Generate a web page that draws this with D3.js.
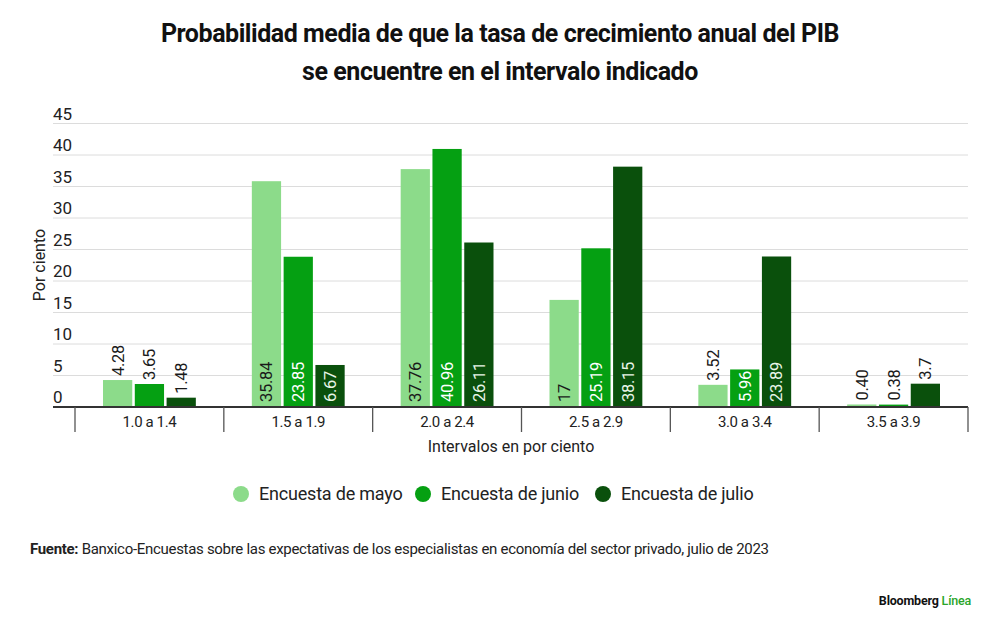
<!DOCTYPE html>
<html>
<head>
<meta charset="utf-8">
<script src="https://cdn.jsdelivr.net/npm/d3@7"></script>
<style>
  body { margin: 0; background: #fff; }
  svg { display: block; font-family: Roboto, "Noto Sans", sans-serif; }
</style>
</head>
<body>
<div id="chart"></div>
<script>
// data
const intervals = ["1.0 a 1.4", "1.5 a 1.9", "2.0 a 2.4", "2.5 a 2.9", "3.0 a 3.4", "3.5 a 3.9"];
const seriesNames = ["Encuesta de mayo", "Encuesta de junio", "Encuesta de julio"];
const mayo = [4.28, 35.84, 37.76, 17, 3.52, 0.40];
const junio = [3.65, 23.85, 40.96, 25.19, 5.96, 0.38];
const julio = [1.48, 6.67, 26.11, 38.15, 23.89, 3.7];
const mayoLabels = ["4.28", "35.84", "37.76", "17", "3.52", "0.40"];
const junioLabels = ["3.65", "23.85", "40.96", "25.19", "5.96", "0.38"];
const julioLabels = ["1.48", "6.67", "26.11", "38.15", "23.89", "3.7"];
const yTicks = [0, 5, 10, 15, 20, 25, 30, 35, 40, 45];

const colors = ["#8cdb8a", "#05a012", "#0a500c"];
const textInside = ["#1a1a1a", "#ffffff", "#e8f5e8"];

const width = 1000, height = 630;
const svg = d3.select("#chart").append("svg")
    .attr("width", width)
    .attr("height", height);

// title
svg.append("text")
    .attr("x", 500).attr("y", 42)
    .attr("text-anchor", "middle")
    .attr("font-size", 25).attr("font-weight", 700)
    .attr("letter-spacing", -0.45)
    .attr("fill", "#111")
    .text("Probabilidad media de que la tasa de crecimiento anual del PIB");
svg.append("text")
    .attr("x", 500).attr("y", 80)
    .attr("text-anchor", "middle")
    .attr("font-size", 25).attr("font-weight", 700)
    .attr("letter-spacing", -0.45)
    .attr("fill", "#111")
    .text("se encuentre en el intervalo indicado");

// scales
const x0 = d3.scaleBand().domain(intervals).range([75, 968]);
const bw = x0.bandwidth();
const x1 = d3.scaleBand().domain(seriesNames).range([28, bw - 28]).paddingInner(0.08);
const y = d3.scaleLinear().domain([0, 45]).range([407, 123.5]);

// gridlines + y labels
const grid = svg.append("g");
grid.selectAll("line").data(yTicks.filter(d => d > 0)).join("line")
    .attr("x1", 53).attr("x2", 968)
    .attr("y1", d => y(d)).attr("y2", d => y(d))
    .attr("stroke", "#dcdcdc").attr("stroke-width", 1);
grid.selectAll("text").data(yTicks).join("text")
    .attr("x", 53).attr("y", d => y(d) - 4)
    .attr("font-size", 17).attr("fill", "#222")
    .text(d => d);

svg.append("text")
    .attr("transform", "translate(45,265) rotate(-90)")
    .attr("text-anchor", "middle")
    .attr("font-size", 16).attr("fill", "#222")
    .text("Por ciento");

// bars
const seriesData = [mayo, junio, julio];
const seriesLabels = [mayoLabels, junioLabels, julioLabels];
const rows = [];
intervals.forEach((c, i) => {
    seriesNames.forEach((s, j) => {
        rows.push({ cat: c, s: s, j: j, v: seriesData[j][i], label: seriesLabels[j][i] });
    });
});

const bars = svg.append("g");
bars.selectAll("rect").data(rows).join("rect")
    .attr("x", d => x0(d.cat) + x1(d.s))
    .attr("y", d => y(d.v))
    .attr("width", x1.bandwidth())
    .attr("height", d => y(0) - y(d.v))
    .attr("fill", d => colors[d.j]);

bars.selectAll("text").data(rows).join("text")
    .attr("transform", d => {
        const cx = x0(d.cat) + x1(d.s) + x1.bandwidth() / 2;
        const yy = d.v >= 5 ? y(0) - 5 : y(d.v) - 4;
        return `translate(${cx},${yy}) rotate(-90)`;
    })
    .attr("dy", "0.36em")
    .attr("font-size", 16.5)
    .attr("letter-spacing", -0.3)
    .attr("fill", d => d.v >= 5 ? textInside[d.j] : "#1a1a1a")
    .text(d => d.label);

// x axis
svg.append("line")
    .attr("x1", 53).attr("x2", 968)
    .attr("y1", y(0)).attr("y2", y(0))
    .attr("stroke", "#333").attr("stroke-width", 2);

const edges = intervals.map(c => x0(c)).concat([x0.range()[1]]);
svg.append("g").selectAll("line").data(edges).join("line")
    .attr("x1", d => d).attr("x2", d => d)
    .attr("y1", y(0)).attr("y2", 432)
    .attr("stroke", "#555").attr("stroke-width", 1.3);

svg.append("g").selectAll("text").data(intervals).join("text")
    .attr("x", d => x0(d) + bw / 2)
    .attr("y", 427)
    .attr("text-anchor", "middle")
    .attr("font-size", 15).attr("fill", "#222")
    .attr("letter-spacing", -0.4)
    .text(d => d);

svg.append("text")
    .attr("x", 511).attr("y", 452)
    .attr("text-anchor", "middle")
    .attr("font-size", 16).attr("fill", "#222")
    .text("Intervalos en por ciento");

// legend
const legendX = [241, 423, 603];
const legend = svg.append("g").selectAll("g").data(seriesNames).join("g")
    .attr("transform", (d, i) => `translate(${legendX[i]},494)`);
legend.append("circle")
    .attr("r", 8)
    .attr("fill", (d, i) => colors[i]);
legend.append("text")
    .attr("x", 18).attr("dy", "0.35em")
    .attr("font-size", 18).attr("fill", "#222")
    .attr("letter-spacing", -0.2)
    .text(d => d);

// source
const src = svg.append("text")
    .attr("x", 30).attr("y", 554)
    .attr("font-size", 15).attr("fill", "#222")
    .attr("letter-spacing", -0.3);
src.append("tspan").attr("font-weight", 700).text("Fuente:");
src.append("tspan").text(" Banxico-Encuestas sobre las expectativas de los especialistas en economía del sector privado, julio de 2023");

// brand
const brand = svg.append("text")
    .attr("x", 971).attr("y", 605)
    .attr("text-anchor", "end")
    .attr("font-size", 12.5).attr("font-weight", 700)
    .attr("letter-spacing", -0.2);
brand.append("tspan").attr("fill", "#111").text("Bloomberg ");
brand.append("tspan").attr("fill", "#2aa52a").attr("font-weight", 500).text("Línea");
</script>
</body>
</html>
